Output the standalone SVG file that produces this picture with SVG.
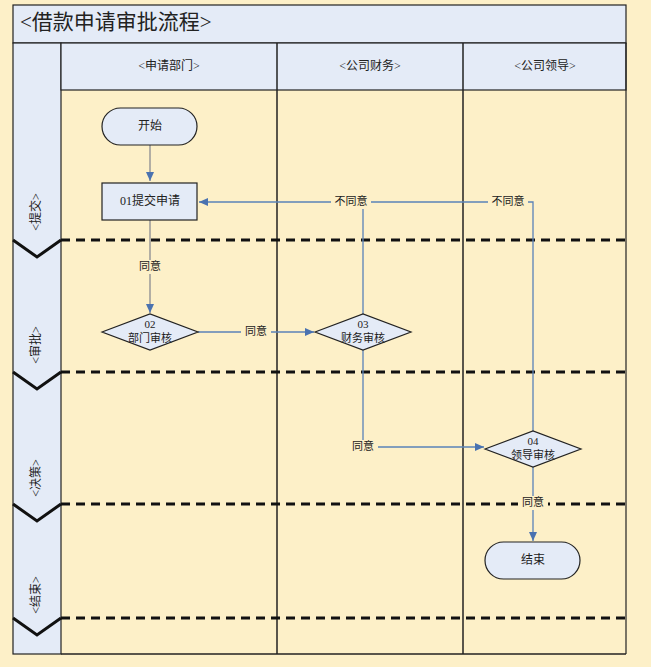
<svg xmlns="http://www.w3.org/2000/svg" width="651" height="667" viewBox="0 0 651 667">
<style>
text{font-family:"Liberation Serif","Noto Sans CJK SC",serif;fill:#222;text-anchor:middle;dominant-baseline:middle}
.t{font-size:12px}
.lbl{font-size:11px}
.n{fill:#e4ebf7;stroke:#222;stroke-width:1.2}
.c{fill:none;stroke:#5a82b8;stroke-width:1.3}
.g{fill:none;stroke:#999;stroke-width:1.5}
.d{stroke:#111;stroke-width:3;stroke-dasharray:9,6}
.lb{fill:#fdf0c8}
</style>
<defs><marker id="a" markerWidth="10" markerHeight="10" refX="9" refY="5" orient="auto" markerUnits="userSpaceOnUse"><path d="M0,1 L9,5 L0,9 z" fill="#4a72b0"/></marker></defs>
<rect width="651" height="667" fill="#fdf0c8"/>
<g id="frame">
<rect x="13" y="5" width="613" height="38" fill="#e4ebf7" stroke="#222" stroke-width="1.2"/>
<text x="20" y="24" style="font-size:21px;text-anchor:start">&lt;借款申请审批流程&gt;</text>
<rect x="13" y="43" width="48" height="611" fill="#e4ebf7" stroke="#222" stroke-width="1.2"/>
<rect x="61" y="43" width="565" height="47" fill="#e4ebf7" stroke="#222" stroke-width="1.2"/>
<line x1="277" y1="43" x2="277" y2="654" stroke="#222" stroke-width="1.5"/>
<line x1="463" y1="43" x2="463" y2="654" stroke="#222" stroke-width="1.5"/>
<line x1="61" y1="654" x2="626" y2="654" stroke="#222" stroke-width="1.5"/>
<line x1="626" y1="43" x2="626" y2="654" stroke="#222" stroke-width="1.2"/>
<text class="t" x="169" y="67">&lt;申请部门&gt;</text>
<text class="t" x="370" y="67">&lt;公司财务&gt;</text>
<text class="t" x="545" y="67">&lt;公司领导&gt;</text>
<g stroke="#111" stroke-width="3" fill="none">
<path d="M13,240 L37,257 L61,240"/><path d="M13,372 L37,389 L61,372"/><path d="M13,504 L37,521 L61,504"/><path d="M13,618 L37,635 L61,618"/>
</g>
<line class="d" x1="61" y1="240" x2="626" y2="240"/>
<line class="d" x1="61" y1="372" x2="626" y2="372"/>
<line class="d" x1="61" y1="504" x2="626" y2="504"/>
<line class="d" x1="61" y1="618" x2="626" y2="618"/>
<text class="t" transform="translate(37,212) rotate(-90)">&lt;提交&gt;</text>
<text class="t" transform="translate(37,345) rotate(-90)">&lt;审批&gt;</text>
<text class="t" transform="translate(37,478) rotate(-90)">&lt;决策&gt;</text>
<text class="t" transform="translate(37,595) rotate(-90)">&lt;结束&gt;</text>
</g>
<g id="connectors">
<line class="g" x1="150" y1="145" x2="150" y2="181" marker-end="url(#a)"/>
<line class="g" x1="150" y1="220" x2="150" y2="313" marker-end="url(#a)"/>
<line class="c" x1="198" y1="332" x2="314" y2="332" marker-end="url(#a)"/>
<polyline class="c" points="363,314 363,202 199,202" marker-end="url(#a)"/>
<polyline class="c" points="533,431 533,202 363,202"/>
<polyline class="c" points="363,350 363,447 484,447" marker-end="url(#a)"/>
<line class="c" x1="533" y1="467" x2="533" y2="541" marker-end="url(#a)"/>
<rect class="lb" x="135" y="260" width="30" height="14"/><text class="lbl" x="150" y="267">同意</text>
<rect class="lb" x="241" y="325" width="30" height="14"/><text class="lbl" x="256" y="332">同意</text>
<rect class="lb" x="331" y="195" width="40" height="14"/><text class="lbl" x="351" y="202">不同意</text>
<rect class="lb" x="488" y="195" width="40" height="14"/><text class="lbl" x="508" y="202">不同意</text>
<rect class="lb" x="348" y="440" width="30" height="14"/><text class="lbl" x="363" y="447">同意</text>
<rect class="lb" x="518" y="496" width="30" height="14"/><text class="lbl" x="533" y="503">同意</text>
</g>
<g id="start"><rect class="n" x="102" y="108" width="95" height="37" rx="18.5"/><text class="t" x="150" y="127">开始</text></g>
<g id="n01"><rect class="n" x="102" y="183" width="95" height="37"/><text class="t" x="150" y="202">01提交申请</text></g>
<g id="n02"><polygon class="n" points="102,332 150,314 198,332 150,350"/><text class="lbl" x="150" y="325">02</text><text class="lbl" x="150" y="339">部门审核</text></g>
<g id="n03"><polygon class="n" points="315,332 363,314 411,332 363,350"/><text class="lbl" x="363" y="325">03</text><text class="lbl" x="363" y="339">财务审核</text></g>
<g id="n04"><polygon class="n" points="485,449 533,431 581,449 533,467"/><text class="lbl" x="533" y="442">04</text><text class="lbl" x="533" y="456">领导审核</text></g>
<g id="end"><rect class="n" x="485" y="542" width="95" height="37" rx="18.5"/><text class="t" x="533" y="561">结束</text></g>
</svg>
